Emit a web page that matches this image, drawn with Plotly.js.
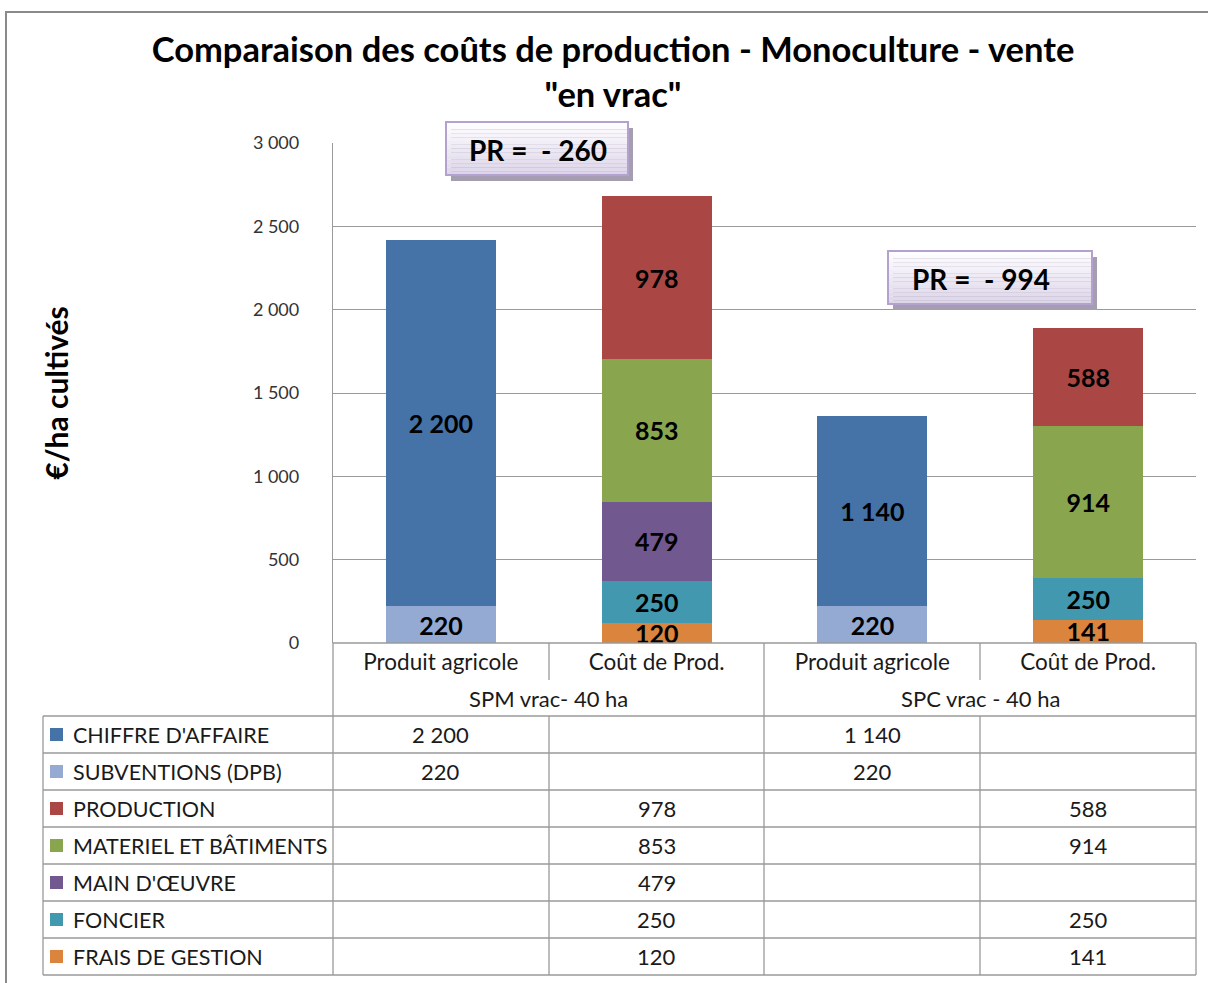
<!DOCTYPE html>
<html>
<head>
<meta charset="utf-8">
<script src="https://cdn.plot.ly/plotly-3.0.1.min.js"></script>
<style>
  html, body { margin: 0; padding: 0; background: #ffffff; }
  #chart { width: 1208px; height: 983px; }
</style>
</head>
<body>
<div id="chart"></div>
<script>
// ---------------- DATA ----------------
const categories = ["Produit agricole", "Coût de Prod.", "Produit agricole", "Coût de Prod."];
const groups = ["SPM vrac- 40 ha", "SPC vrac - 40 ha"];
const seriesNames = ["CHIFFRE D'AFFAIRE", "SUBVENTIONS (DPB)", "PRODUCTION", "MATERIEL ET BÂTIMENTS", "MAIN D'ŒUVRE", "FONCIER", "FRAIS DE GESTION"];
const chiffreAffaire = [2200, null, 1140, null];
const subventions = [220, null, 220, null];
const production = [null, 978, null, 588];
const materielBatiments = [null, 853, null, 914];
const mainOeuvre = [null, 479, null, null];
const foncier = [null, 250, null, 250];
const fraisGestion = [null, 120, null, 141];
const prValues = [-260, -994];
const yTicks = [0, 500, 1000, 1500, 2000, 2500, 3000];

// ---------------- STYLE ----------------
const seriesColors = ["#4572A7", "#95AAD2", "#AA4643", "#89A54E", "#71588F", "#4198AF", "#DB843D"];
const seriesValues = [chiffreAffaire, subventions, production, materielBatiments, mainOeuvre, foncier, fraisGestion];
const FONT = "Lato, 'Open Sans', sans-serif";

// pixel geometry of the plot frame
const W = 1208, H = 983, L = 333, R = 1196, T = 143, B = 643;
const px = x => (x - L) / (R - L);
const py = y => (B - y) / (B - T);

function fmt(n) {
  if (n === null || n === undefined) return "";
  const s = String(Math.abs(n)).replace(/\B(?=(\d{3})+(?!\d))/g, " ");
  return (n < 0 ? "- " : "") + s;
}

// Bars: stacked bottom -> top is reverse of the table order
const traces = [];
for (let i = seriesNames.length - 1; i >= 0; i--) {
  traces.push({
    type: "bar",
    name: seriesNames[i],
    x: [0, 1, 2, 3],
    y: seriesValues[i],
    marker: { color: seriesColors[i], line: { width: 0 } },
    text: seriesValues[i].map(fmt),
    textposition: "inside",
    insidetextanchor: "middle",
    textfont: { family: FONT, size: 25, color: "#000000", weight: "bold" },
    hoverinfo: "name+y",
    showlegend: false
  });
}

const shapes = [];
const annotations = [];
const gridCol = "#9a9a9a";

// outer frame (top & left)
shapes.push({ type: "line", xref: "paper", yref: "paper", x0: px(5), x1: px(1208), y0: py(12), y1: py(12), line: { color: "#8a8a8a", width: 2 } });
shapes.push({ type: "line", xref: "paper", yref: "paper", x0: px(6), x1: px(6), y0: py(12), y1: py(983), line: { color: "#8a8a8a", width: 2 } });

// table geometry
const rowTop = 716, rowH = 37;
const nRows = seriesNames.length;
const tableBottom = rowTop + rowH * nRows;
const lineStyle = { color: gridCol, width: 1.3 };
// x axis line
shapes.push({ type: "line", xref: "paper", yref: "paper", x0: px(333), x1: px(1196), y0: py(643), y1: py(643), line: lineStyle });
// horizontal table lines
for (let r = 0; r <= nRows; r++) {
  const y = rowTop + r * rowH;
  shapes.push({ type: "line", xref: "paper", yref: "paper", x0: px(43), x1: px(1196), y0: py(y), y1: py(y), line: lineStyle });
}
// vertical lines
shapes.push({ type: "line", xref: "paper", yref: "paper", x0: px(43), x1: px(43), y0: py(rowTop), y1: py(tableBottom), line: lineStyle });
[333, 764, 1196].forEach(x => shapes.push({ type: "line", xref: "paper", yref: "paper", x0: px(x), x1: px(x), y0: py(643), y1: py(tableBottom), line: lineStyle }));
[549, 980].forEach(x => {
  shapes.push({ type: "line", xref: "paper", yref: "paper", x0: px(x), x1: px(x), y0: py(643), y1: py(680), line: lineStyle });
  shapes.push({ type: "line", xref: "paper", yref: "paper", x0: px(x), x1: px(x), y0: py(rowTop), y1: py(tableBottom), line: lineStyle });
});

// group labels
groups.forEach((g, gi) => {
  annotations.push({ xref: "x", yref: "paper", x: gi * 2 + 0.5, y: py(698), text: g, showarrow: false, xanchor: "center", yanchor: "middle", font: { family: FONT, size: 22, color: "#1a1a1a" } });
});

// table rows: legend key + label + values
for (let r = 0; r < nRows; r++) {
  const cy = rowTop + r * rowH + rowH / 2;
  shapes.push({ type: "rect", xref: "paper", yref: "paper", x0: px(50), x1: px(63), y0: py(cy - 6.5), y1: py(cy + 6.5), fillcolor: seriesColors[r], line: { width: 0 } });
  annotations.push({ xref: "paper", yref: "paper", x: px(71), y: py(cy), text: seriesNames[r], showarrow: false, xanchor: "left", yanchor: "middle", font: { family: FONT, size: 21.5, color: "#1a1a1a" } });
  seriesValues[r].forEach((v, ci) => {
    if (v === null) return;
    annotations.push({ xref: "x", yref: "paper", x: ci, y: py(cy), text: fmt(v), showarrow: false, xanchor: "center", yanchor: "middle", font: { family: FONT, size: 22, color: "#1a1a1a" } });
  });
}

// PR boxes
const prBoxes = [
  { x0: 446, x1: 628, y0: 122, y1: 175, tx: 467 },
  { x0: 888, x1: 1092, y0: 251, y1: 304, tx: 910 }
];
prBoxes.forEach((b, i) => {
  shapes.push({ type: "rect", xref: "paper", yref: "paper", x0: px(b.x0 + 5), x1: px(b.x1 + 5), y0: py(b.y0 + 6), y1: py(b.y1 + 6), fillcolor: "#a59db0", line: { width: 0 } });
  const n = 14;
  for (let k = 0; k < n; k++) {
    const t = k / (n - 1);
    const c = [Math.round(254 - t * 33), Math.round(253 - t * 39), Math.round(255 - t * 22)];
    shapes.push({ type: "rect", xref: "paper", yref: "paper", x0: px(b.x0), x1: px(b.x1), y0: py(b.y0 + (b.y1 - b.y0) * k / n), y1: py(b.y0 + (b.y1 - b.y0) * (k + 1) / n), fillcolor: `rgb(${c[0]},${c[1]},${c[2]})`, line: { width: 0 } });
  }
  shapes.push({ type: "rect", xref: "paper", yref: "paper", x0: px(b.x0), x1: px(b.x1), y0: py(b.y0), y1: py(b.y1), fillcolor: "rgba(0,0,0,0)", line: { color: "#b3a1cf", width: 2 } });
  annotations.push({ xref: "paper", yref: "paper", x: px(b.tx), y: py((b.y0 + b.y1) / 2 + 1), text: "PR =  " + fmt(prValues[i]), showarrow: false, xanchor: "left", yanchor: "middle", font: { family: FONT, size: 28, color: "#000000", weight: "bold" } });
});

const layout = {
  width: W, height: H,
  margin: { l: L, r: W - R, t: T, b: H - B, pad: 0 },
  paper_bgcolor: "#ffffff",
  plot_bgcolor: "#ffffff",
  separators: ", ",
  barmode: "stack",
  bargap: 0.49,
  showlegend: false,
  font: { family: FONT, color: "#1a1a1a" },
  title: {
    text: "Comparaison des coûts de production - Monoculture - vente<br>\"en vrac\"",
    x: 613 / W, xanchor: "center", xref: "container",
    y: 1 - 62 / H, yanchor: "top", yref: "container",
    font: { family: FONT, size: 34.5, color: "#000000", weight: "bold" }
  },
  xaxis: {
    type: "linear", range: [-0.5, 3.5], fixedrange: true,
    tickvals: [0, 1, 2, 3], ticktext: categories,
    showgrid: false, zeroline: false, showline: false, ticks: "",
    tickfont: { family: FONT, size: 22.5, color: "#1a1a1a" },
    ticklabelstandoff: 3
  },
  yaxis: {
    range: [0, 3000], tickvals: yTicks, ticktext: yTicks.map(fmt), fixedrange: true,
    showgrid: true, gridcolor: gridCol, gridwidth: 1.3,
    zeroline: false, showline: true, linecolor: gridCol, linewidth: 1.3,
    ticks: "", ticklabelstandoff: 29,
    tickfont: { family: FONT, size: 18, color: "#333333" },
    title: { text: "€/ha cultivés", standoff: 175, font: { family: FONT, size: 30, color: "#000000", weight: "bold" } }
  },
  uniformtext: { mode: "show", minsize: 25 },
  shapes: shapes,
  annotations: annotations
};

Plotly.newPlot("chart", traces, layout, { displayModeBar: false, staticPlot: false });
</script>
</body>
</html>
